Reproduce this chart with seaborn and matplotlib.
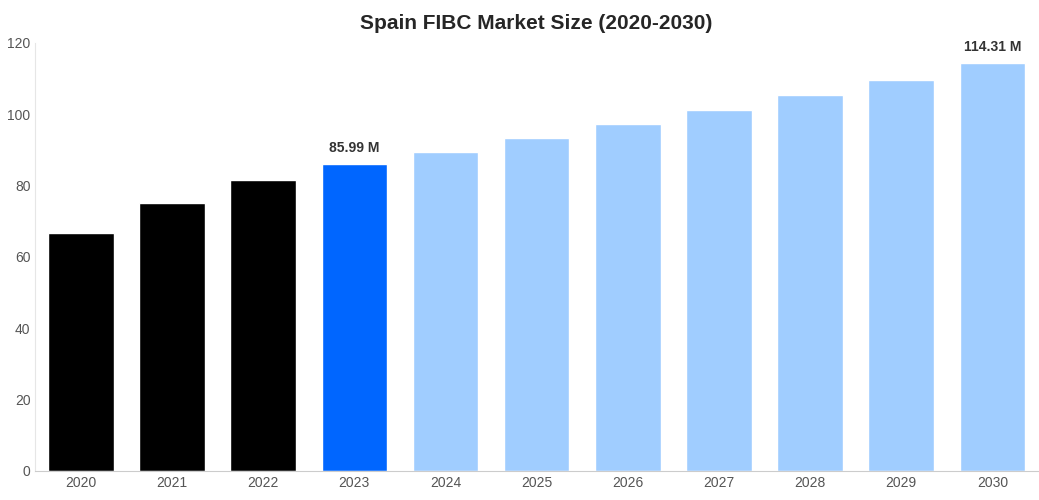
import matplotlib
matplotlib.use("Agg")
import matplotlib.pyplot as plt
import seaborn as sns
import pandas as pd

years = ["2020","2021","2022","2023","2024","2025","2026","2027","2028","2029","2030"]
values = [66.7, 75.1, 81.6, 85.99, 89.4, 93.5, 97.4, 101.3, 105.3, 109.6, 114.31]
colors = ["#000000"]*3 + ["#0066ff"] + ["#a0cdff"]*7
labels = {3: "85.99 M", 10: "114.31 M"}

sns.set_style("white")
plt.rcParams['font.family'] = ['Liberation Sans', 'DejaVu Sans']
fig, ax = plt.subplots(figsize=(10.39, 5.0), dpi=100)
fig.subplots_adjust(left=0.034, right=0.999, top=0.914, bottom=0.058)
df = pd.DataFrame({"year": years, "value": values})
sns.barplot(data=df, x="year", y="value", hue="year", palette=colors, legend=False, width=0.72, ax=ax, saturation=1)
ax.set_ylim(0, 120)
ax.set_yticks(range(0, 121, 20))
ax.set_xlabel(""); ax.set_ylabel("")
ax.tick_params(colors="#555555", labelsize=10, length=0)
for s in ["top", "right"]:
    ax.spines[s].set_visible(False)
ax.spines["left"].set_color("#e6e6e6")
ax.spines["bottom"].set_color("#cccccc")
for i, t in labels.items():
    ax.text(i, values[i] + 2.5, t, ha="center", va="bottom", fontsize=10, fontweight="bold", color="#333333")
ax.set_title("Spain FIBC Market Size (2020-2030)", fontsize=15, fontweight="bold", pad=10)
fig.savefig("out.png")
